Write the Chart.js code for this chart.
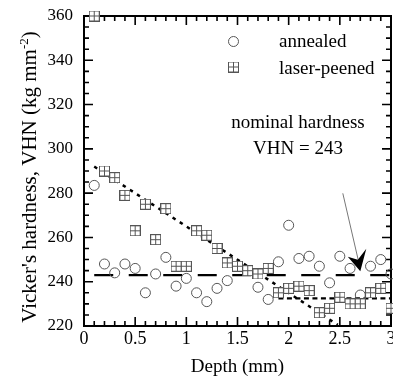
<!DOCTYPE html>
<html>
<head>
<meta charset="utf-8">
<script src="https://cdn.jsdelivr.net/npm/chart.js@4.4.0/dist/chart.umd.min.js"></script>
<style>
  html, body { margin: 0; padding: 0; background: #fff; }
  canvas { display: block; }
</style>
</head>
<body>
<canvas id="hardness-chart" width="393" height="378"></canvas>
<script>
const FONT = '"Liberation Serif", "Times New Roman", serif';

// depth of each indent (mm)
const depth = [0.1, 0.2, 0.3, 0.4, 0.5, 0.6, 0.7, 0.8, 0.9, 1.0,
               1.1, 1.2, 1.3, 1.4, 1.5, 1.6, 1.7, 1.8, 1.9, 2.0,
               2.1, 2.2, 2.3, 2.4, 2.5, 2.6, 2.7, 2.8, 2.9, 3.0];
// Vicker's hardness (kg mm^-2)
const annealed = [283.5, 248, 244, 248, 246, 235, 243.5, 251, 238, 241.5,
                  235, 231, 237, 240.5, 247, null, 237.5, 232, 249, 265.5,
                  250.5, 251.5, 247, 239.5, 251.5, 246, 234, 247, 250, 243.5];
const laserPeened = [360, 290, 287, 279, 263, 275, 259, 273, 247, 247,
                     263, 261, 255, 248.5, 247, 245, 243.5, 246, 235, 237,
                     238, 236, 226, 228, 233, 230, 230, 235, 237, 228];
const nominalHardness = 243;
// guide lines drawn over the peened data
const trendDepth = [0.1, 2.48];
const trendVHN = [292, 220.5];
const plateauDepth = [1.9, 3.0];
const plateauVHN = [232.5, 232.5];

const xTicks = [0, 0.5, 1, 1.5, 2, 2.5, 3];
const yTicks = [220, 240, 260, 280, 300, 320, 340, 360];

const toPoints = (xs, ys) => xs.map((x, i) => ({ x, y: ys[i] }));

// square with a cross, like the peened marker
function makeBoxMarker(size) {
    const c = document.createElement('canvas');
    c.width = size;
    c.height = size;
    const g = c.getContext('2d');
    g.fillStyle = '#fff';
    g.fillRect(0, 0, size, size);
    g.strokeStyle = '#555';
    g.lineWidth = 1;
    g.strokeRect(0.5, 0.5, size - 1, size - 1);
    const m = Math.floor(size / 2) + 0.5;
    g.beginPath();
    g.moveTo(m, 0); g.lineTo(m, size);
    g.moveTo(0, m); g.lineTo(size, m);
    g.stroke();
    return c;
}
const boxMarker = makeBoxMarker(11);

// frame and inward ticks on all four sides
const frameTicks = {
    id: 'frameTicks',
    beforeDatasetsDraw(chart) {
        const { ctx, chartArea: a, scales: { x, y } } = chart;
        ctx.save();
        ctx.strokeStyle = '#000';
        ctx.lineWidth = 2;
        ctx.strokeRect(a.left, a.top, a.right - a.left, a.bottom - a.top);
        ctx.lineWidth = 1.6;
        ctx.beginPath();
        for (let i = 0; i <= 30; i++) {
            const px = x.getPixelForValue(i / 10);
            const len = i % 5 === 0 ? 9 : 5;
            ctx.moveTo(px, a.bottom); ctx.lineTo(px, a.bottom - len);
            ctx.moveTo(px, a.top); ctx.lineTo(px, a.top + len);
        }
        for (let v = 220; v <= 360; v += 5) {
            const py = y.getPixelForValue(v);
            const len = v % 20 === 0 ? 9 : 5;
            ctx.moveTo(a.left, py); ctx.lineTo(a.left + len, py);
            ctx.moveTo(a.right, py); ctx.lineTo(a.right - len, py);
        }
        ctx.stroke();
        ctx.restore();
    }
};

// legend, note, arrow and the y title with its superscript
const labels = {
    id: 'labels',
    afterDraw(chart) {
        const { ctx, scales: { x, y } } = chart;
        ctx.save();
        ctx.fillStyle = '#000';

        // legend
        ctx.strokeStyle = '#555';
        ctx.lineWidth = 1;
        ctx.beginPath();
        ctx.arc(233.5, 41.5, 5, 0, Math.PI * 2);
        ctx.stroke();
        ctx.drawImage(boxMarker, 228, 61.5);
        ctx.font = '19px ' + FONT;
        ctx.textAlign = 'left';
        ctx.fillText('annealed', 279, 47);
        ctx.fillText('laser-peened', 279, 74);

        // note
        ctx.textAlign = 'center';
        ctx.fillText('nominal hardness', 298, 128);
        ctx.fillText('VHN = 243', 298, 154);

        // arrow pointing at the nominal line
        const tx = x.getPixelForValue(2.7);
        const ty = y.getPixelForValue(244.7);
        ctx.strokeStyle = '#777';
        ctx.lineWidth = 1;
        ctx.beginPath();
        ctx.moveTo(tx - 17.5, ty - 78);
        ctx.lineTo(tx - 2, ty - 11);
        ctx.stroke();
        ctx.beginPath();
        ctx.moveTo(tx, ty);
        ctx.lineTo(tx - 12.5, ty - 14.5);
        ctx.lineTo(tx - 2.5, ty - 11.5);
        ctx.lineTo(tx + 6, ty - 22.5);
        ctx.closePath();
        ctx.fill();

        // y title
        const main = "Vicker's hardness, VHN (kg mm";
        ctx.font = '21px ' + FONT;
        const w1 = ctx.measureText(main).width;
        const w3 = ctx.measureText(')').width;
        ctx.font = '13px ' + FONT;
        const w2 = ctx.measureText('-2').width;
        ctx.translate(36, 177);
        ctx.rotate(-Math.PI / 2);
        ctx.textAlign = 'left';
        let sx = -(w1 + w2 + w3) / 2;
        ctx.font = '21px ' + FONT;
        ctx.fillText(main, sx, 0);
        sx += w1;
        ctx.font = '13px ' + FONT;
        ctx.fillText('-2', sx, -8);
        sx += w2;
        ctx.font = '21px ' + FONT;
        ctx.fillText(')', sx, 0);
        ctx.restore();
    }
};

const ctx = document.getElementById('hardness-chart').getContext('2d');

new Chart(ctx, {
    type: 'scatter',
    data: {
        datasets: [
            {
                label: 'annealed',
                data: toPoints(depth, annealed),
                pointStyle: 'circle',
                pointRadius: 5,
                pointBorderColor: '#555',
                pointBackgroundColor: 'rgba(255,255,255,0)',
                pointBorderWidth: 1,
                clip: false,
                order: 1
            },
            {
                label: 'laser-peened',
                data: toPoints(depth, laserPeened),
                pointStyle: boxMarker,
                pointRadius: 5.5,
                clip: false,
                order: 0
            },
            {
                label: 'nominal',
                data: toPoints([0.1, 3.0], [nominalHardness, nominalHardness]),
                showLine: true,
                pointRadius: 0,
                borderColor: '#000',
                borderWidth: 2.2,
                borderDash: [19, 15.5],
                order: 3
            },
            {
                label: 'trend',
                data: toPoints(trendDepth, trendVHN),
                showLine: true,
                pointRadius: 0,
                borderColor: '#000',
                borderWidth: 2.5,
                borderDash: [3.5, 5],
                order: 2
            },
            {
                label: 'plateau',
                data: toPoints(plateauDepth, plateauVHN),
                showLine: true,
                pointRadius: 0,
                borderColor: '#000',
                borderWidth: 2.2,
                borderDash: [5, 3.5],
                order: 2
            }
        ]
    },
    options: {
        responsive: false,
        devicePixelRatio: 1,
        animation: false,
        layout: { autoPadding: false, padding: { left: 0, right: 2, top: 16, bottom: 0 } },
        plugins: {
            legend: { display: false },
            tooltip: { enabled: false }
        },
        scales: {
            x: {
                type: 'linear',
                min: 0,
                max: 3,
                grid: { display: false, drawTicks: false },
                border: { display: false },
                afterBuildTicks: s => { s.ticks = xTicks.map(v => ({ value: v })); },
                afterFit: s => { s.height = 52; s.paddingLeft = 0; s.paddingRight = 0; },
                ticks: {
                    font: { family: FONT, size: 18 },
                    color: '#000',
                    padding: 2,
                    maxRotation: 0,
                    autoSkip: false,
                    callback: v => String(v)
                },
                title: {
                    display: true,
                    text: 'Depth (mm)',
                    font: { family: FONT, size: 19 },
                    color: '#000',
                    padding: { top: 0, bottom: 0 }
                }
            },
            y: {
                type: 'linear',
                min: 220,
                max: 360,
                grid: { display: false, drawTicks: false },
                border: { display: false },
                afterBuildTicks: s => { s.ticks = yTicks.map(v => ({ value: v })); },
                afterFit: s => { s.width = 84; s.paddingTop = 0; s.paddingBottom = 0; },
                ticks: {
                    font: { family: FONT, size: 17 },
                    color: '#000',
                    padding: 11,
                    autoSkip: false,
                    callback: v => String(v)
                }
            }
        }
    },
    plugins: [frameTicks, labels]
});
</script>
</body>
</html>
